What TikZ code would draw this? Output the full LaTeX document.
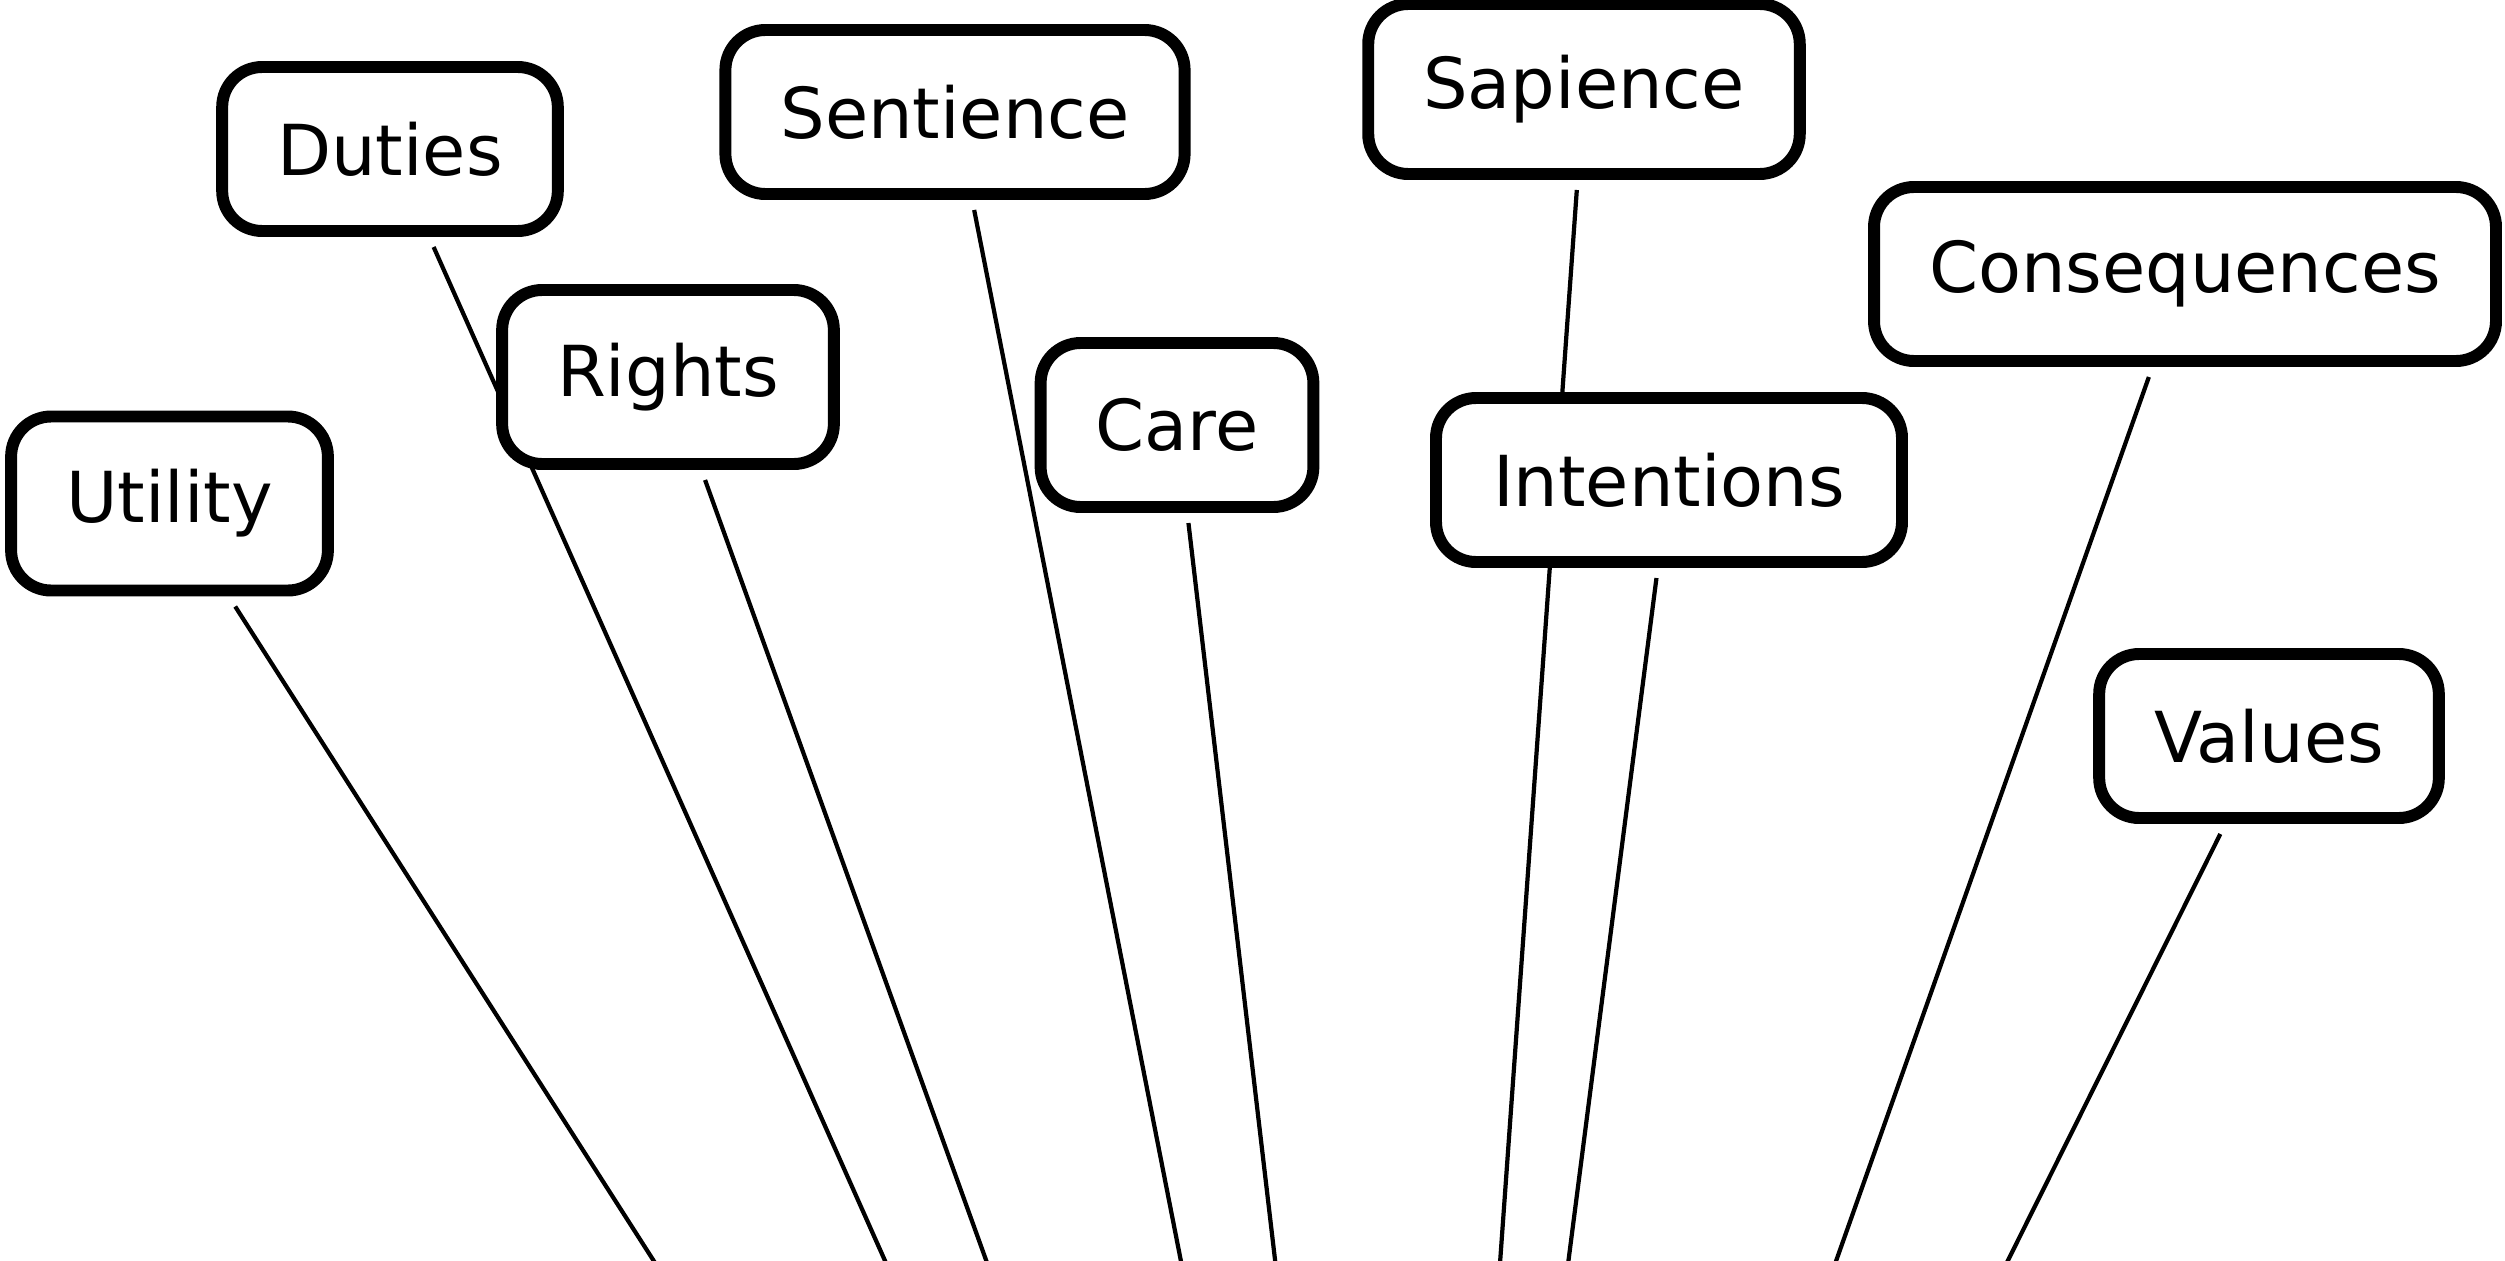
\documentclass[tikz,border=0pt]{standalone}
\usepackage{fontspec}
\setmainfont{DejaVu Sans}
\usetikzlibrary{backgrounds}

\begin{document}
\begin{tikzpicture}[
    topic/.style={draw, line width=3.4pt, rounded corners=0.4cm, fill=white, inner xsep=0.55cm, minimum height=1.64cm, outer sep=0.16cm, font=\fontsize{20}{24}\selectfont},
    link/.style={line width=1.2pt}
]
\useasboundingbox (0,0) rectangle (25.05,12.6);

% Topics
\node[topic, minimum height=1.74cm] (utility) at (1.695,7.565) {Utility};
\node[topic] (duties) at (3.90,11.11) {Duties};
\node[topic, minimum height=1.74cm] (rights) at (6.68,8.83) {Rights};
\node[topic] (sentience) at (9.55,11.48) {Sentience};
\node[topic] (care) at (11.77,8.35) {Care};
\node[topic, minimum height=1.7cm] (sapience) at (15.84,11.71) {Sapience};
\node[topic, minimum height=1.74cm] (consequences) at (21.85,9.86) {Consequences};
\node[topic, minimum width=4.66cm] (intentions) at (16.69,7.80) {Intentions};
\node[topic] (values) at (22.69,5.24) {Values};

% Common point below the picture
\coordinate (hub) at (14.15,-11.91);

\begin{scope}[on background layer]
    \draw[link] (utility) -- (hub);
    \draw[link] (duties) -- (hub);
    \draw[link] (rights) -- (hub);
    \draw[link] (sentience) -- (hub);
    \draw[link] (care) -- (hub);
    \draw[link] (sapience) -- (hub);
    \draw[link] (intentions) -- (hub);
    \draw[link] (consequences) -- (hub);
    \draw[link] (values) -- (hub);
\end{scope}

\end{tikzpicture}
\end{document}
